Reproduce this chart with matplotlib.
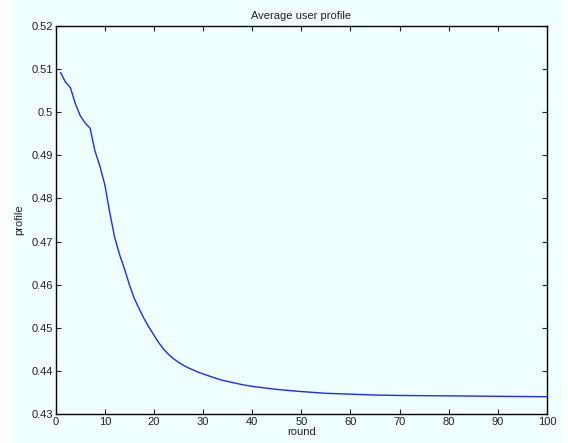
import matplotlib as mpl
mpl.use("Agg")
import matplotlib.pyplot as plt
import matplotlib.patches as patches

plt.rcParams['font.family'] = ['Liberation Sans', 'DejaVu Sans']

# values
rounds = [1, 2, 3, 4, 5, 6, 7, 8, 9, 10, 11, 12, 13, 14, 15, 16, 17, 18, 19, 20,
          21, 22, 23, 24, 25, 26, 27, 28, 29, 30, 32, 34, 36, 38, 40, 45, 50,
          55, 60, 65, 70, 80, 90, 100]
profile = [0.5092, 0.5070, 0.5057, 0.5020, 0.4992, 0.4975, 0.4963, 0.4910,
           0.4875, 0.4832, 0.4768, 0.4710, 0.4670, 0.4637, 0.4600, 0.4568,
           0.4544, 0.4521, 0.4501, 0.4483, 0.4465, 0.4450, 0.4438, 0.4428,
           0.4420, 0.4413, 0.4407, 0.4402, 0.4397, 0.4393, 0.4385, 0.4378,
           0.4373, 0.4368, 0.4364, 0.4357, 0.4352, 0.4348, 0.4346, 0.4344,
           0.4343, 0.4342, 0.4341, 0.4340]
x_ticks = [0, 10, 20, 30, 40, 50, 60, 70, 80, 90, 100]
y_ticks = [0.43, 0.44, 0.45, 0.46, 0.47, 0.48, 0.49, 0.50, 0.51, 0.52]
y_labels = ['0.43', '0.44', '0.45', '0.46', '0.47', '0.48', '0.49', '0.5', '0.51', '0.52']

fig = plt.figure(figsize=(5.68, 4.43), dpi=100, facecolor='white')
bg = patches.Rectangle((11 / 568, 0), 551 / 568, 1, transform=fig.transFigure,
                       facecolor='#f0ffff', edgecolor='none', zorder=-10)
fig.patches.append(bg)

ax = fig.add_axes([0.098, 0.0655, 0.865, 0.8758])
ax.set_facecolor('#f0ffff')
ax.plot(rounds, profile, color='#1a2cff', linewidth=1.0)

ax.set_xlim(0, 100)
ax.set_ylim(0.43, 0.52)
ax.set_xticks(x_ticks)
ax.set_yticks(y_ticks)
ax.set_yticklabels(y_labels)
ax.tick_params(direction='in', length=3.5, width=0.8, top=True, right=True,
               labelsize=8, pad=2, colors='#222222')
for s in ax.spines.values():
    s.set_linewidth(1.0)

ax.set_title('Average user profile', fontsize=8, pad=5, color='#222222')
ax.set_xlabel('round', fontsize=8, labelpad=0, color='#222222')
ax.set_ylabel('profile', fontsize=8, labelpad=5, color='#222222')

plt.savefig('out.png', dpi=100, facecolor=fig.get_facecolor())
